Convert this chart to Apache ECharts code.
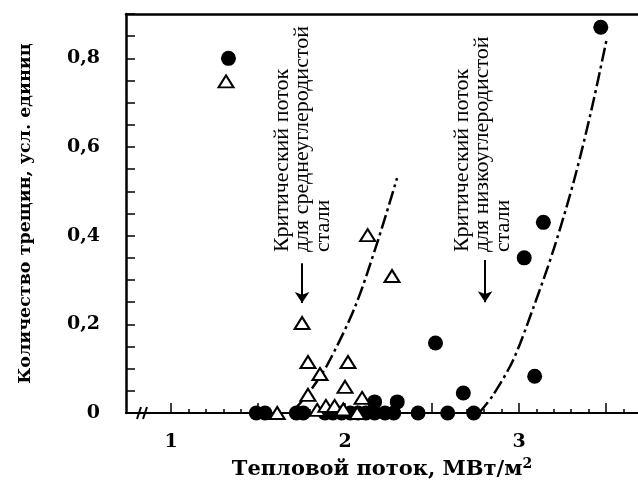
<!DOCTYPE html>
<html>
<head>
<meta charset="utf-8">
<script src="https://cdn.jsdelivr.net/npm/echarts@6/dist/echarts.min.js"></script>
<style>
  html, body { margin: 0; padding: 0; background: #fff; }
  #chart { width: 638px; height: 486px; }
</style>
</head>
<body>
<div id="chart"></div>
<script>
// низкоуглеродистая сталь (точки)
const circleFlux = [1.33, 3.47, 3.14, 3.03, 3.09, 2.52, 2.68, 2.17, 2.30,
  1.49, 1.54, 1.72, 1.76, 1.885, 1.93, 1.98, 2.03, 2.075, 2.12, 2.17, 2.23, 2.28, 2.42, 2.59, 2.74];
const circleCracks = [0.80, 0.87, 0.43, 0.35, 0.083, 0.158, 0.045, 0.025, 0.025,
  0, 0, 0, 0, 0, 0, 0, 0, 0, 0, 0, 0, 0, 0, 0, 0];

// среднеуглеродистая сталь (треугольники)
const triangleFlux = [1.316, 2.13, 2.27, 1.753, 1.787, 2.017, 1.856, 2.0, 1.787, 2.098,
  1.61, 1.84, 1.89, 1.94, 1.99, 2.07];
const triangleCracks = [0.748, 0.401, 0.309, 0.203, 0.115, 0.115, 0.088, 0.059, 0.041, 0.034,
  0, 0.007, 0.016, 0.016, 0.008, 0];

// кривые (штрихпунктир)
const midCurveFlux = [1.72, 1.80, 1.90, 2.057, 2.19, 2.299];
const midCurveCracks = [0.012, 0.05, 0.11, 0.239, 0.39, 0.53];
const lowCurveFlux = [2.77, 2.85, 2.966, 3.08, 3.2, 3.32, 3.42, 3.506];
const lowCurveCracks = [0, 0.04, 0.119, 0.235, 0.37, 0.53, 0.69, 0.847];

// шкалы
const xLabelValues = [1, 2, 3];
const xMajorTicks = [1, 1.5, 2, 2.5, 3, 3.5];
const xMinorTicks = [1.1, 1.2, 1.3, 1.4, 1.6, 1.7, 1.8, 1.9, 2.1, 2.2, 2.3, 2.4,
  2.6, 2.7, 2.8, 2.9, 3.1, 3.2, 3.3, 3.4, 3.6];
const yLabelValues = [0, 0.2, 0.4, 0.6, 0.8];

// подписи критического потока
const noteLines = [
  ["Критический поток", "для среднеуглеродистой", "стали"],
  ["Критический поток", "для низкоуглеродистой", "стали"],
];
const noteAnchor = [[1.578, 0.363], [2.612, 0.363]];
const arrowFlux = [1.753, 2.805];
const arrowFrom = [0.338, 0.345];
const arrowTo = [0.248, 0.25];

const X_MIN = 0.741;
const X_MAX = 3.684;
const boldFont = { fontFamily: "DejaVu Serif", fontWeight: "bold", fontSize: 19, color: "#000" };

function zip(xs, ys) {
  return xs.map((x, i) => [x, ys[i]]);
}

const baseX = {
  type: "value",
  min: X_MIN,
  max: X_MAX,
  splitLine: { show: false },
  axisLabel: { show: false },
  axisTick: { show: false },
  axisLine: { show: false },
};

const dashDot = { color: "#000", width: 2.5, type: [14, 4, 3, 4] };

const option = {
  animation: false,
  backgroundColor: "#fff",
  grid: { left: 126, top: 14, right: 0, bottom: 73 },
  xAxis: [
    Object.assign({}, baseX, {
      position: "bottom",
      name: "{a|Тепловой поток, МВт/м}{s|2}",
      nameLocation: "middle",
      nameGap: 44,
      nameTextStyle: {
        rich: {
          a: Object.assign({}, boldFont, { fontSize: 21 }),
          s: Object.assign({}, boldFont, { fontSize: 14, padding: [0, 0, 12, 0] }),
        },
      },
      axisLine: { show: true, lineStyle: { color: "#000", width: 2 } },
      axisTick: { show: true, inside: true, length: 10, customValues: xMajorTicks, lineStyle: { color: "#000", width: 1.5 } },
      axisLabel: Object.assign({ show: true, margin: 20, customValues: xLabelValues }, boldFont),
    }),
    Object.assign({}, baseX, {
      position: "bottom",
      axisTick: { show: true, inside: true, length: 4, customValues: xMinorTicks, lineStyle: { color: "#000", width: 1.5 } },
    }),
    Object.assign({}, baseX, {
      position: "top",
      axisLine: { show: true, lineStyle: { color: "#000", width: 2.5 } },
    }),
  ],
  yAxis: {
    type: "value",
    min: 0,
    max: 0.9,
    interval: 0.05,
    name: "Количество трещин, усл. единиц",
    nameLocation: "middle",
    nameGap: 92,
    nameTextStyle: Object.assign({}, boldFont, { fontSize: 17.5 }),
    splitLine: { show: false },
    axisLine: { show: true, lineStyle: { color: "#000", width: 2.5 } },
    axisTick: { inside: true, length: 9, lineStyle: { color: "#000", width: 1.5 } },
    axisLabel: Object.assign({
      margin: 26,
      customValues: yLabelValues,
      formatter: (v) => (v === 0 ? "0" : v.toFixed(1).replace(".", ",")),
    }, boldFont),
  },
  series: [
    {
      name: "mid",
      type: "line",
      data: zip(midCurveFlux, midCurveCracks),
      smooth: 0.3,
      showSymbol: false,
      lineStyle: dashDot,
      z: 1,
    },
    {
      name: "low",
      type: "line",
      data: zip(lowCurveFlux, lowCurveCracks),
      smooth: 0.3,
      showSymbol: false,
      lineStyle: dashDot,
      z: 1,
    },
    {
      name: "circles",
      type: "scatter",
      data: zip(circleFlux, circleCracks),
      symbol: "circle",
      symbolSize: 15,
      clip: false,
      itemStyle: { color: "#000", opacity: 1 },
      markLine: {
        silent: true,
        symbol: ["none", "arrow"],
        symbolSize: 11,
        label: { show: false },
        emphasis: { disabled: true },
        lineStyle: { color: "#000", width: 2, type: "solid", opacity: 1 },
        data: arrowFlux.map((x, i) => [{ coord: [x, arrowFrom[i]] }, { coord: [x, arrowTo[i]] }]),
      },
      z: 2,
    },
    {
      name: "triangles",
      type: "scatter",
      data: zip(triangleFlux, triangleCracks),
      symbol: "triangle",
      symbolSize: [15, 12],
      clip: false,
      itemStyle: { color: "#fff", borderColor: "#000", borderWidth: 2, opacity: 1 },
      z: 3,
    },
  ],
};

const chart = echarts.init(document.getElementById("chart"));
chart.setOption(option);

// повернутые подписи и знак разрыва оси
const graphics = noteLines.map((lines, i) => {
  const p = chart.convertToPixel({ xAxisIndex: 0, yAxisIndex: 0 }, noteAnchor[i]);
  return {
    type: "text",
    x: p[0],
    y: p[1],
    rotation: Math.PI / 2,
    silent: true,
    style: {
      text: lines.join("\n"),
      font: "22px 'Liberation Serif'",
      lineHeight: 20.5,
      fill: "#000",
      textAlign: "left",
      textVerticalAlign: "top",
    },
  };
});
const origin = chart.convertToPixel({ xAxisIndex: 0, yAxisIndex: 0 }, [X_MIN, 0]);
[13, 19].forEach((dx) => {
  graphics.push({
    type: "line",
    silent: true,
    shape: { x1: origin[0] + dx - 2, y1: origin[1] + 6, x2: origin[0] + dx + 2, y2: origin[1] - 6 },
    style: { stroke: "#000", lineWidth: 2 },
  });
});
chart.setOption({ graphic: graphics });
</script>
</body>
</html>
